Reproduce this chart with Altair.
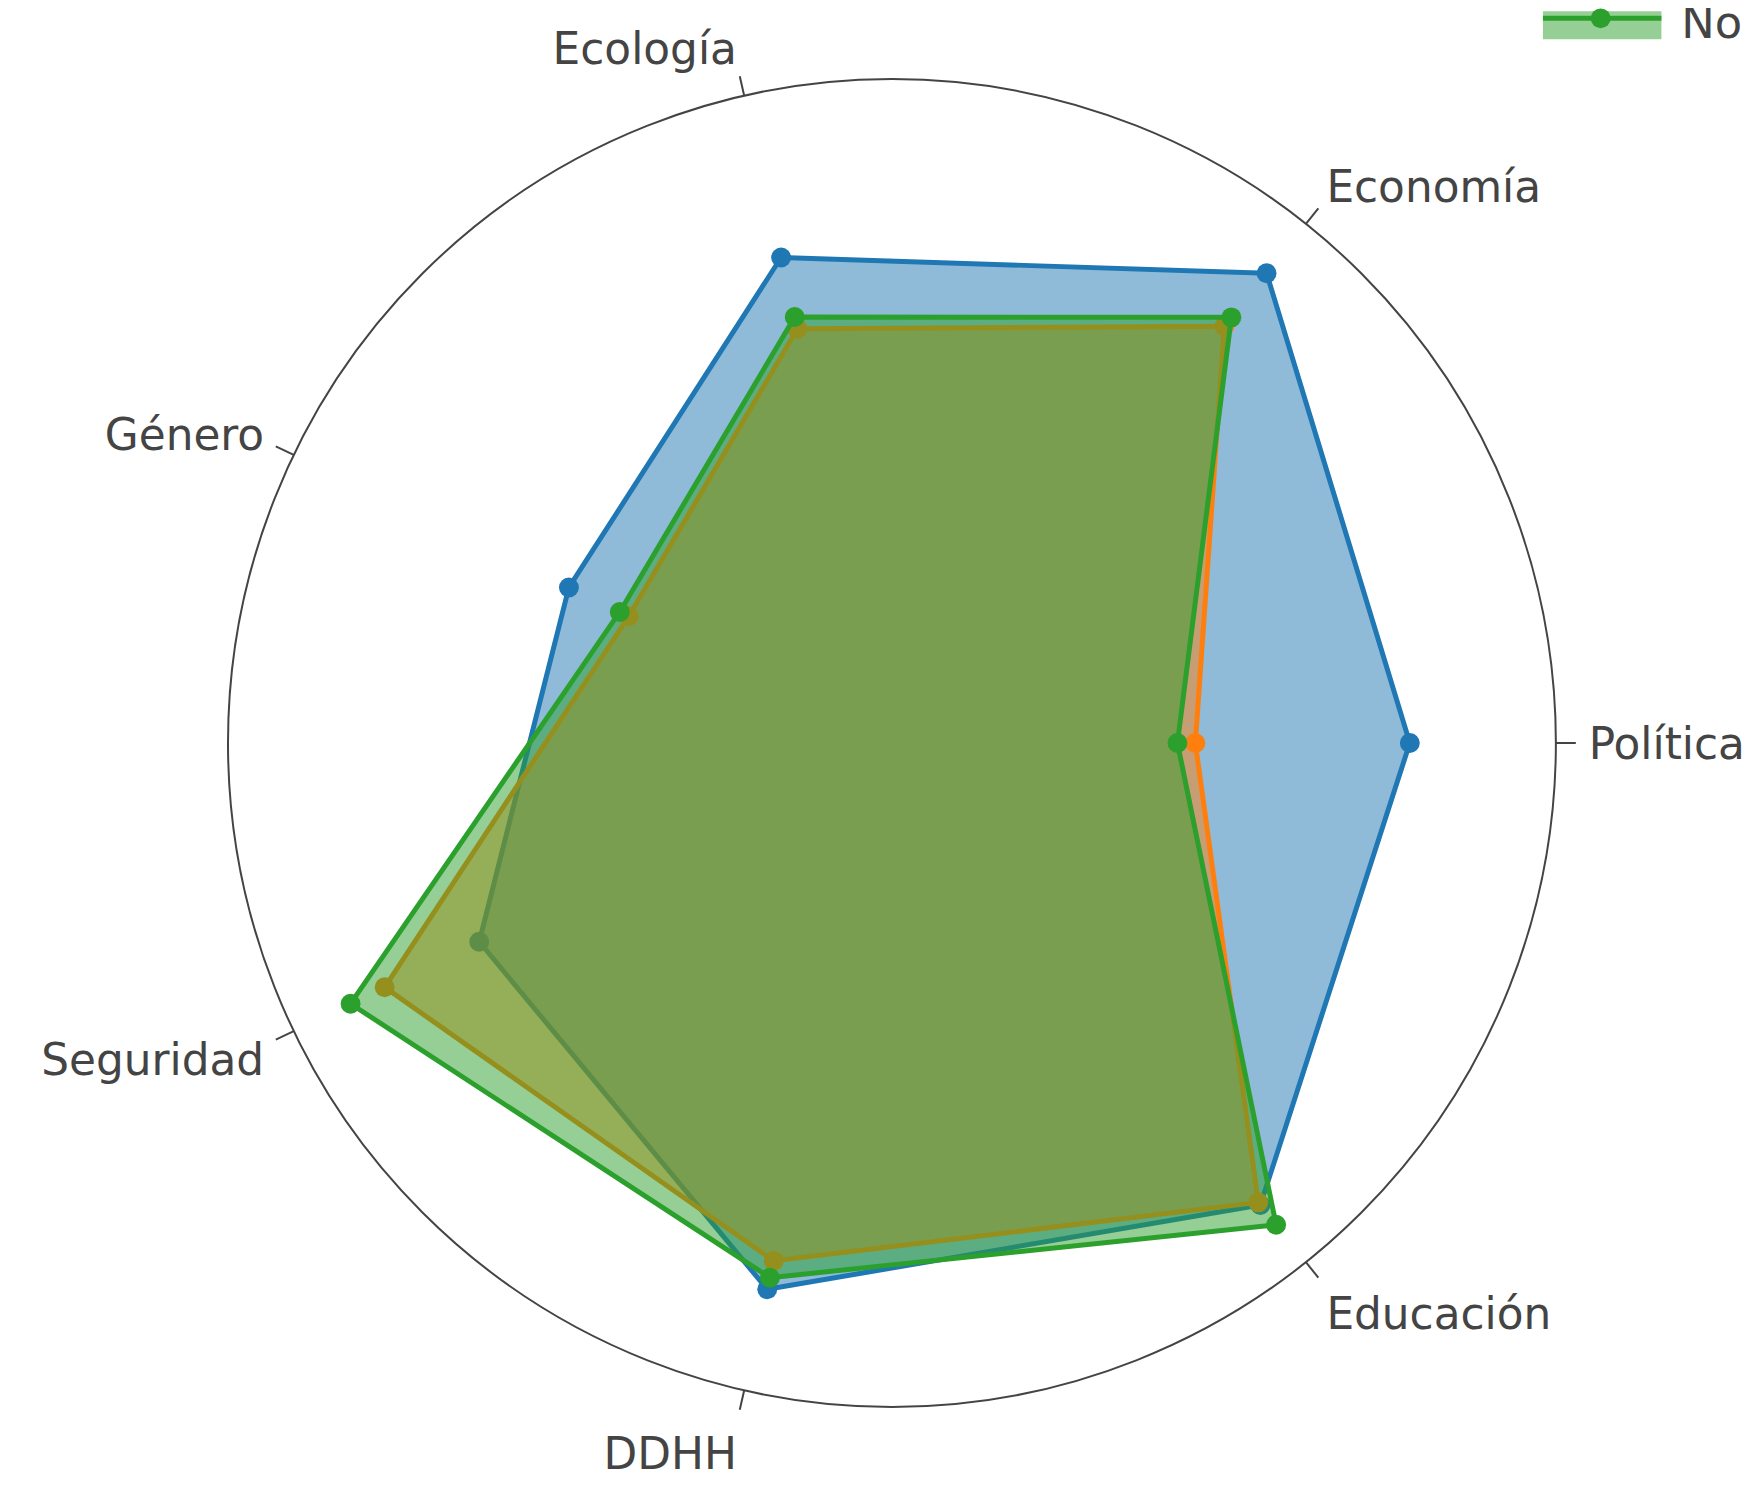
import math
import altair as alt
import pandas as pd

# ---------------- data ----------------
categories = ["Política", "Economía", "Ecología", "Género", "Seguridad", "DDHH", "Educación"]
series_names = ["Sí", "NS/NC", "No"]
values_s1 = [78.0, 90.5, 75.0, 54.0, 69.0, 84.4, 89.0]
values_s2 = [45.7, 80.3, 64.0, 44.0, 84.8, 80.0, 88.5]
values_s3 = [43.0, 82.0, 65.8, 45.5, 90.5, 82.6, 92.8]
series_colors = ["#1f77b4", "#ff7f0e", "#2ca02c"]
RADIAL_MAX = 100.0

# ---------------- layout ----------------
W, H = 1749, 1471
CX, CY, RPX = 888.0, 735.0, 667.0
N = len(categories)
xs = alt.Scale(domain=[-CX / RPX, (W - CX) / RPX], nice=False, zero=False)
ys = alt.Scale(domain=[-(H - CY) / RPX, CY / RPX], nice=False, zero=False)
GREY = "#444444"
FONT = "DejaVu Sans"
FS = 44

rows = []
for name, vals in zip(series_names, [values_s1, values_s2, values_s3]):
    for i, (c, v) in enumerate(zip(categories, vals)):
        rows.append({"series": name, "category": c, "idx": i, "value": v})
df = pd.DataFrame(rows)
df_axis = pd.DataFrame({"category": categories, "idx": list(range(N))})

ang = f"datum.idx * 2 * PI / {N}"

layers = []

# outer circle
circle = alt.Chart(pd.DataFrame({"x": [0.0], "y": [0.0]})).mark_point(
    shape="circle", size=(2 * RPX) ** 2, filled=False, stroke=GREY, strokeWidth=2, opacity=1
).encode(x=alt.X("x:Q", scale=xs, axis=None), y=alt.Y("y:Q", scale=ys, axis=None))
layers.append(circle)

# angular ticks
tick_len = 20.0 / RPX
ticks = alt.Chart(df_axis).transform_calculate(
    a=ang,
).transform_calculate(
    x="cos(datum.a)", y="sin(datum.a)",
    x2=f"(1 + {tick_len}) * cos(datum.a)", y2=f"(1 + {tick_len}) * sin(datum.a)",
).mark_rule(color=GREY, strokeWidth=2).encode(
    x=alt.X("x:Q", scale=xs, axis=None), y=alt.Y("y:Q", scale=ys, axis=None),
    x2="x2:Q", y2="y2:Q",
)
layers.append(ticks)

# angular labels
r_lab = 1 + 33.0 / RPX
lab_base = alt.Chart(df_axis).transform_calculate(
    a=ang,
).transform_calculate(
    c="cos(datum.a)", s="sin(datum.a)",
).transform_calculate(
    lx=f"{r_lab} * datum.c",
    ly=f"datum.s * ({r_lab} + (datum.s > 0 ? 16 : 32) / {RPX})",
)
for cond, al in [("datum.c > 0.1", "left"), ("datum.c < -0.1", "right"),
                 ("abs(datum.c) <= 0.1", "center")]:
    layers.append(
        lab_base.transform_filter(cond).mark_text(
            align=al, baseline="middle", font=FONT, fontSize=FS, color=GREY, dy=3
        ).encode(
            x=alt.X("lx:Q", scale=xs, axis=None), y=alt.Y("ly:Q", scale=ys, axis=None),
            text="category:N",
        )
    )

# series polygons + markers
for name, col in zip(series_names, series_colors):
    base = alt.Chart(df).transform_filter(alt.datum.series == name).transform_calculate(
        a=ang,
    ).transform_calculate(
        x=f"datum.value / {RADIAL_MAX} * cos(datum.a)",
        y=f"datum.value / {RADIAL_MAX} * sin(datum.a)",
    )
    poly = base.mark_line(
        interpolate="linear-closed", stroke=col, strokeWidth=5,
        fill=col, fillOpacity=0.5, strokeJoin="round",
    ).encode(
        x=alt.X("x:Q", scale=xs, axis=None), y=alt.Y("y:Q", scale=ys, axis=None),
        order="idx:Q",
    )
    pts = base.mark_point(filled=True, size=400, color=col, opacity=1).encode(
        x=alt.X("x:Q", scale=xs, axis=None), y=alt.Y("y:Q", scale=ys, axis=None),
    )
    layers += [poly, pts]

# legend (only the last entry is visible at the top edge)
one = pd.DataFrame({"label": [series_names[2]]})
leg_col = series_colors[2]
LX = 1542
layers.append(alt.Chart(one).mark_rect(color=leg_col, opacity=0.5).encode(
    x=alt.value(LX), x2=alt.value(LX + 119), y=alt.value(0), y2=alt.value(28)))
layers.append(alt.Chart(one).mark_rule(color=leg_col, strokeWidth=5).encode(
    x=alt.value(LX), x2=alt.value(LX + 119), y=alt.value(7), y2=alt.value(7)))
layers.append(alt.Chart(one).mark_point(filled=True, size=400, color=leg_col, opacity=1).encode(
    x=alt.value(LX + 58), y=alt.value(7)))
layers.append(alt.Chart(one).mark_text(
    align="left", baseline="alphabetic", font=FONT, fontSize=45, color=GREY
).encode(x=alt.value(LX + 139), y=alt.value(27), text="label:N"))

chart = alt.layer(*layers).properties(
    width=W, height=H, padding=0,
    autosize=alt.AutoSizeParams(type="none"),
    background="white",
).configure_view(stroke=None)

chart.save("out.html", embed_options={"renderer": "svg", "actions": False})
